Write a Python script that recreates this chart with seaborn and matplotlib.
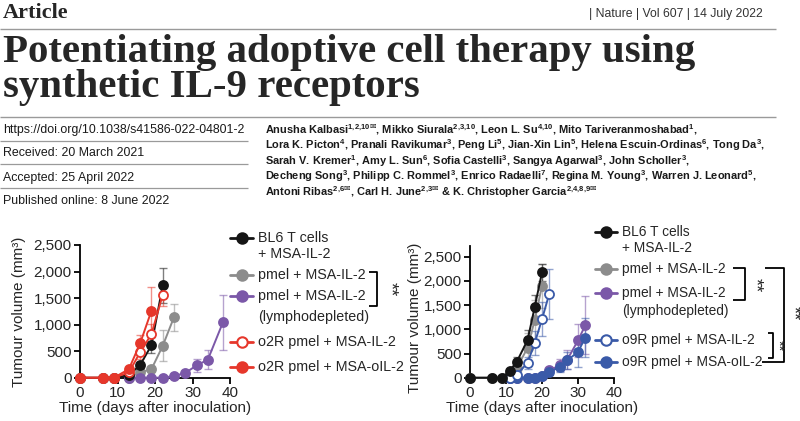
import matplotlib
matplotlib.use("Agg")
import matplotlib.pyplot as plt
from matplotlib.lines import Line2D
from matplotlib.ticker import StrMethodFormatter
import pandas as pd
import seaborn as sns

# ---- panel 1 (o2R) : tumour volume (mm3) by day, mean and error ----
a_bl6_days = [0, 6, 9, 13, 16, 19, 22]
a_bl6_vol = [0, 0, 0, 50, 240, 610, 1740]
a_bl6_err = [0, 0, 0, 20, 60, 150, 330]

a_pmel_days = [13, 16, 19, 22, 25]
a_pmel_vol = [0, 100, 160, 600, 1140]
a_pmel_err = [10, 40, 60, 290, 255]

a_lymph_days = [13, 16, 19, 22, 25, 28, 31, 34, 38]
a_lymph_vol = [0, 0, 0, 0, 30, 90, 230, 340, 1040]
a_lymph_err = [0, 0, 0, 0, 10, 30, 130, 180, 520]

a_o2r_days = [0, 6, 9, 13, 16, 19, 22]
a_o2r_vol = [0, 0, 0, 100, 480, 820, 1560]
a_o2r_err = [0, 0, 0, 30, 120, 200, 200]

a_o2r_oil_days = [0, 6, 9, 13, 16, 19]
a_o2r_oil_vol = [0, 0, 0, 160, 650, 1260]
a_o2r_oil_err = [0, 0, 0, 40, 150, 450]

# ---- panel 2 (o9R) ----
b_bl6_days = [0, 6, 9, 11, 13, 16, 18, 20]
b_bl6_vol = [0, 0, 0, 140, 330, 780, 1470, 2180]
b_bl6_err = [0, 0, 0, 50, 100, 200, 250, 180]

b_pmel_days = [0, 6, 9, 11, 13, 16, 18, 20]
b_pmel_vol = [0, 0, 0, 80, 200, 620, 1200, 1900]
b_pmel_err = [0, 0, 0, 40, 120, 300, 400, 450]

b_lymph_days = [11, 13, 16, 18, 20, 22, 25, 27, 30, 32]
b_lymph_vol = [0, 0, 0, 0, 40, 150, 260, 370, 770, 1080]
b_lymph_err = [0, 0, 0, 0, 20, 60, 120, 200, 350, 600]

b_o9r_days = [11, 13, 16, 18, 20, 22]
b_o9r_vol = [0, 60, 310, 720, 1210, 1730]
b_o9r_err = [0, 30, 120, 250, 350, 520]

b_o9r_oil_days = [11, 13, 16, 18, 20, 22, 25, 27, 30, 32]
b_o9r_oil_vol = [0, 0, 0, 0, 30, 120, 220, 360, 530, 830]
b_o9r_oil_err = [0, 0, 0, 0, 15, 60, 100, 180, 300, 400]

x_ticks = [0, 10, 20, 30, 40]
y_ticks = [0, 500, 1000, 1500, 2000, 2500]

BLACK = "#151515"
GREY = "#8c8c8c"
PURPLE = "#7b58a8"
RED = "#e6372b"
BLUE = "#3a5aa8"

W, H = 800, 421

sns.set_style("ticks")
plt.rcParams["font.family"] = ["Liberation Sans", "DejaVu Sans"]
plt.rcParams["mathtext.default"] = "regular"

fig = plt.figure(figsize=(W / 100, H / 100), dpi=100)


def fx(x):
    return x / W


def fy(y):
    return 1 - y / H


def seg(xs, ys, color="black", lw=1.3):
    fig.add_artist(Line2D([fx(x) for x in xs], [fy(y) for y in ys],
                          transform=fig.transFigure, color=color, lw=lw,
                          solid_capstyle="butt"))


def sup(s, mail=False):
    # {,} keeps mathtext from padding the commas
    env = r"\mathrm{✉}" if mail else ""
    return "$^{" + s.replace(",", "{,}") + env + "}$"


def make_df(series):
    parts = []
    for name, days, vol, err in series:
        parts.append(pd.DataFrame({"day": days, "vol": vol, "err": err, "group": name}))
    return pd.concat(parts, ignore_index=True)


def draw_panel(ax, df, styles, ymax):
    for name, color, filled in styles:
        sub = df[df["group"] == name]
        e = sub[sub["err"] > 0]
        ax.errorbar(e["day"], e["vol"], yerr=e["err"], fmt="none", ecolor=color,
                    alpha=0.55, elinewidth=1.0, capsize=3, capthick=1.0,
                    clip_on=False, zorder=2)
        sns.lineplot(data=sub, x="day", y="vol", ax=ax, color=color, errorbar=None,
                     linewidth=1.4, marker="o", markersize=6.5,
                     markerfacecolor=color if filled else "white",
                     markeredgecolor=color, markeredgewidth=1.3,
                     clip_on=False, zorder=3)
    ax.set_xlim(0, 40)
    ax.set_ylim(0, ymax)
    ax.set_xticks(x_ticks)
    ax.set_yticks(y_ticks)
    ax.yaxis.set_major_formatter(StrMethodFormatter("{x:,.0f}"))
    ax.tick_params(labelsize=11, length=4, width=1.3, pad=2, color="black")
    for s in ("left", "bottom"):
        ax.spines[s].set_linewidth(1.3)
        ax.spines[s].set_color("black")
    sns.despine(ax=ax)
    ax.set_xlabel("Time (days after inoculation)", fontsize=11, labelpad=1)
    ax.set_ylabel("Tumour volume (mm³)", fontsize=11)


def legend(rows, hx0, hx1, tx, size):
    for y, color, filled, text in rows:
        if color is not None:
            fig.add_artist(Line2D([fx(hx0), fx((hx0 + hx1) / 2), fx(hx1)], [fy(y)] * 3,
                                  transform=fig.transFigure, color=color, lw=2,
                                  marker="o", markevery=[1], markersize=7.5,
                                  markerfacecolor=color if filled else "white",
                                  markeredgecolor=color, markeredgewidth=1.5))
        fig.text(fx(tx), fy(y), text, fontsize=size, va="center", ha="left")


def bracket(x0, x1, y0, y1, star_x, star_y, x0b=None, star_size=13):
    seg([x0, x1, x1, x0 if x0b is None else x0b], [y0, y0, y1, y1])
    fig.text(fx(star_x), fy(star_y), "**", fontsize=star_size, rotation=-90,
             ha="center", va="center")


# ---- header ----
fig.text(fx(3), fy(18), "Article", family="Liberation Serif", weight="bold",
         size=16, va="baseline")
fig.text(fx(763), fy(14), "| Nature | Vol 607 | 14 July 2022", size=8.8,
         ha="right", va="center", color="#333333")
seg([0, 776], [29, 29], color="#9a9a9a", lw=1.0)
fig.text(fx(3), fy(62), "Potentiating adoptive cell therapy using",
         family="Liberation Serif", weight="bold", size=29.4, va="baseline")
fig.text(fx(3), fy(97), "synthetic IL-9 receptors",
         family="Liberation Serif", weight="bold", size=29.4, va="baseline")
seg([0, 776], [117, 117], color="#9a9a9a", lw=1.0)

meta = [(130, "https://doi.org/10.1038/s41586-022-04801-2"),
        (153.3, "Received: 20 March 2021"),
        (178.3, "Accepted: 25 April 2022"),
        (200.7, "Published online: 8 June 2022")]
for y, t in meta:
    fig.text(fx(3), fy(y), t, size=8.9, va="center", color="#1a1a1a")
for y in (140.7, 164, 188.3):
    seg([0, 248], [y, y], color="#9a9a9a", lw=0.9)

authors = [
    "Anusha Kalbasi" + sup("1,2,10", True) + ", Mikko Siurala" + sup("2,3,10")
    + ", Leon L. Su" + sup("4,10") + ", Mito Tariveranmoshabad" + sup("1") + ",",
    "Lora K. Picton" + sup("4") + ", Pranali Ravikumar" + sup("3") + ", Peng Li" + sup("5")
    + ", Jian-Xin Lin" + sup("5") + ", Helena Escuin-Ordinas" + sup("6") + ", Tong Da" + sup("3") + ",",
    "Sarah V. Kremer" + sup("1") + ", Amy L. Sun" + sup("6") + ", Sofia Castelli" + sup("3")
    + ", Sangya Agarwal" + sup("3") + ", John Scholler" + sup("3") + ",",
    "Decheng Song" + sup("3") + ", Philipp C. Rommel" + sup("3") + ", Enrico Radaelli" + sup("7")
    + ", Regina M. Young" + sup("3") + ", Warren J. Leonard" + sup("5") + ",",
    "Antoni Ribas" + sup("2,6", True) + ", Carl H. June" + sup("2,3", True)
    + " & K. Christopher Garcia" + sup("2,4,8,9", True),
]
for i, line in enumerate(authors):
    fig.text(fx(265), fy(130 + 15.4 * i), line, size=7.9, weight="bold",
             va="center", color="#1a1a1a")

# ---- panel 1 ----
df_a = make_df([
    ("bl6", a_bl6_days, a_bl6_vol, a_bl6_err),
    ("pmel", a_pmel_days, a_pmel_vol, a_pmel_err),
    ("lymph", a_lymph_days, a_lymph_vol, a_lymph_err),
    ("o2r", a_o2r_days, a_o2r_vol, a_o2r_err),
    ("o2r_oil", a_o2r_oil_days, a_o2r_oil_vol, a_o2r_oil_err),
])
ax1 = fig.add_axes([fx(80), fy(377.7), 150.4 / W, (377.7 - 245) / H])
draw_panel(ax1, df_a, [("pmel", GREY, True), ("lymph", PURPLE, True),
                       ("bl6", BLACK, True), ("o2r", RED, False),
                       ("o2r_oil", RED, True)], 2500)
ax1.yaxis.set_label_coords(-0.36, 0.5)

legend([(238.3, BLACK, True, "BL6 T cells"), (254.3, None, True, "+ MSA-IL-2"),
        (275, GREY, True, "pmel + MSA-IL-2"), (296, PURPLE, True, "pmel + MSA-IL-2"),
        (316.7, None, True, "(lymphodepleted)"),
        (341.7, RED, False, "o2R pmel + MSA-IL-2"),
        (366.7, RED, True, "o2R pmel + MSA-oIL-2")], 230, 253, 258, 10.3)
bracket(369, 377, 271.7, 306, 390, 289)

# ---- panel 2 ----
df_b = make_df([
    ("bl6", b_bl6_days, b_bl6_vol, b_bl6_err),
    ("pmel", b_pmel_days, b_pmel_vol, b_pmel_err),
    ("lymph", b_lymph_days, b_lymph_vol, b_lymph_err),
    ("o9r", b_o9r_days, b_o9r_vol, b_o9r_err),
    ("o9r_oil", b_o9r_oil_days, b_o9r_oil_vol, b_o9r_oil_err),
])
ax2 = fig.add_axes([fx(470), fy(377.7), 144 / W, 132 / H])
draw_panel(ax2, df_b, [("pmel", GREY, True), ("lymph", PURPLE, True),
                       ("o9r_oil", BLUE, True), ("o9r", BLUE, False),
                       ("bl6", BLACK, True)], 2730)
ax2.yaxis.set_label_coords(-0.33, 0.45)

legend([(231.7, BLACK, True, "BL6 T cells"), (247.7, None, True, "+ MSA-IL-2"),
        (269, GREY, True, "pmel + MSA-IL-2"), (293.3, PURPLE, True, "pmel + MSA-IL-2"),
        (311, None, True, "(lymphodepleted)"),
        (340, BLUE, False, "o9R pmel + MSA-IL-2"),
        (361.7, BLUE, True, "o9R pmel + MSA-oIL-2")], 595, 617, 621.7, 9.9)
bracket(733, 745, 267.7, 300, 755, 285)
bracket(765, 784, 267.7, 361.7, 793, 313, x0b=762)
bracket(768, 773, 333, 358, 778.5, 346, star_size=10.5)

fig.savefig("out.png", dpi=100, facecolor="white")
